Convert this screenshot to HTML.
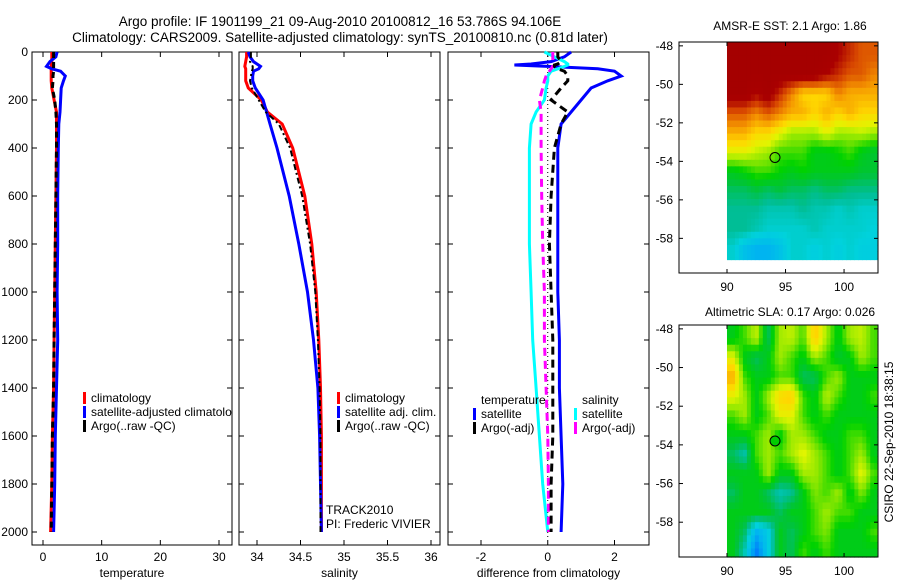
<!DOCTYPE html>
<html><head><meta charset="utf-8"><style>
body{margin:0;background:#fff;}
svg{display:block;font-family:"Liberation Sans",sans-serif;}
text{font-size:12px;fill:#000;}
</style></head><body>
<svg id="chart" width="900" height="580" xmlns="http://www.w3.org/2000/svg">
<text x="340" y="26" text-anchor="middle" style="font-size:13.5px">Argo profile: IF 1901199_21 09-Aug-2010 20100812_16 53.786S 94.106E</text>
<text x="340" y="42" text-anchor="middle" style="font-size:13.5px">Climatology: CARS2009. Satellite-adjusted climatology: synTS_20100810.nc (0.81d later)</text>
<text x="790" y="30" text-anchor="middle">AMSR-E SST: 2.1 Argo: 1.86</text>
<text x="790" y="316" text-anchor="middle">Altimetric SLA: 0.17 Argo: 0.026</text>
<text transform="translate(893,442) rotate(-90)" text-anchor="middle">CSIRO 22-Sep-2010 18:38:15</text>
<g id="layer"></g>
</svg>
<script>
// ---- profile data ----
const depths = [0,20,40,60,70,80,100,120,150,200,250,300,400,600,800,1000,1200,1400,1600,1800,2000];
const tempClim = [1.5,1.5,1.5,1.4,1.4,1.4,1.4,1.4,1.5,1.9,2.3,2.3,2.3,2.2,2.1,2.0,1.9,1.8,1.6,1.5,1.3];
const tempSat = [2.4,2.2,1.2,0.6,1.5,3.0,3.8,3.5,3.1,3.0,2.9,2.7,2.6,2.5,2.5,2.4,2.5,2.3,2.1,2.0,1.8];
const tempArgo = [1.8,1.8,1.8,1.8,1.8,1.8,1.7,1.7,1.6,2.0,2.2,2.3,2.3,2.2,2.1,2.0,1.9,1.8,1.6,1.5,1.4];
const salClim = [33.88,33.88,33.87,33.86,33.87,33.87,33.87,33.87,33.9,34.05,34.12,34.29,34.41,34.55,34.63,34.68,34.71,34.73,34.74,34.74,34.74];
const salSat = [33.9,33.92,33.96,34.04,34.02,33.96,33.95,33.95,33.98,34.07,34.11,34.15,34.23,34.37,34.48,34.58,34.65,34.7,34.72,34.73,34.74];
const salArgo = [33.93,33.93,33.92,33.95,33.95,33.94,33.93,33.92,33.94,34.02,34.1,34.25,34.38,34.52,34.61,34.67,34.7,34.72,34.73,34.73,34.73];
const diffDepths = [0,20,40,50,54,60,70,80,100,120,150,200,250,300,400,600,800,1000,1200,1400,1600,1800,2000];
const dTempSat = [0.7,0.5,0.1,-0.5,-1.0,0.0,1.5,2.0,2.2,1.8,1.3,1.0,0.7,0.4,0.3,0.3,0.3,0.3,0.35,0.35,0.4,0.45,0.4];
const dSalSat = [-0.1,0.2,0.5,0.6,0.6,0.5,0.3,0.1,0.0,0.0,-0.05,-0.1,-0.35,-0.5,-0.55,-0.55,-0.55,-0.5,-0.45,-0.35,-0.25,-0.15,0.0];
const dSalArgo = [0.15,0.15,0.15,0.15,0.15,0.15,0.1,0.05,-0.05,-0.1,-0.15,-0.25,-0.2,-0.2,-0.2,-0.18,-0.15,-0.1,-0.1,-0.05,0,0.02,0.02];
const dTempArgo = [0.3,0.3,0.4,0.3,0.2,0.2,0.3,0.5,0.6,0.6,0.4,0.1,0.6,0.4,0.2,0.1,0.05,0.1,0.15,0.15,0.15,0.1,0.1];
const depthTicks = [0,200,400,600,800,1000,1200,1400,1600,1800,2000];
const tempTicks = [0,10,20,30];
const salTicks = [34,34.5,35,35.5,36];
const diffTicks = [-2,0,2];
// ---- map data (colormap index 0..1), rows lat -48..-58, cols lon 90..102 ----
const mapLons = [90,91,92,93,94,95,96,97,98,99,100,101,102];
const mapLats = [-48,-49,-50,-51,-52,-53,-54,-55,-56,-57,-58];
const sstGrid = [
[1,1,1,1,1,1,1,1,1,.95,.9,.85,.85],
[1,1,1,1,1,1,1,1,.95,.9,.85,.85,.8],
[1,1,.95,1,.9,.8,.7,.7,.7,.8,.75,.75,.75],
[.85,.85,.8,.85,.8,.75,.75,.7,.75,.7,.75,.7,.7],
[.75,.75,.7,.7,.65,.6,.6,.6,.65,.6,.6,.62,.6],
[.65,.65,.62,.6,.55,.55,.55,.5,.5,.52,.55,.5,.48],
[.5,.52,.55,.55,.52,.5,.52,.5,.5,.5,.5,.48,.48],
[.45,.45,.47,.45,.47,.45,.45,.43,.45,.45,.43,.43,.43],
[.42,.42,.42,.4,.4,.4,.42,.4,.4,.38,.4,.38,.38],
[.42,.42,.4,.38,.38,.38,.38,.4,.38,.38,.38,.38,.37],
[.38,.33,.3,.3,.33,.38,.38,.36,.38,.36,.38,.36,.36]];
const slaLats = [-48,-49,-50,-51,-52,-53,-54,-55,-56,-57,-58,-59];
const slaGrid = [
[.5,.55,.62,.45,.6,.62,.55,.72,.6,.5,.6,.62,.55],
[.65,.5,.45,.5,.6,.55,.5,.6,.55,.48,.5,.6,.55],
[.75,.55,.5,.5,.55,.55,.45,.45,.55,.6,.5,.5,.5],
[.65,.6,.5,.6,.7,.72,.55,.5,.62,.55,.5,.5,.55],
[.55,.6,.5,.55,.65,.65,.55,.5,.55,.5,.5,.5,.5],
[.5,.5,.55,.6,.5,.6,.6,.55,.5,.5,.55,.55,.5],
[.45,.4,.55,.6,.55,.6,.65,.6,.55,.5,.55,.6,.5],
[.5,.5,.5,.6,.5,.5,.6,.6,.55,.5,.55,.65,.55],
[.45,.5,.5,.45,.4,.42,.5,.58,.55,.6,.5,.58,.5],
[.5,.5,.5,.5,.45,.5,.5,.55,.6,.55,.55,.5,.5],
[.5,.45,.3,.35,.5,.45,.5,.55,.58,.5,.5,.5,.55],
[.5,.4,.22,.35,.5,.45,.55,.5,.55,.5,.5,.5,.5]];
const lonTicks = [90,95,100];
const latTicks = [-48,-50,-52,-54,-56,-58];
const floatLon = [94.1];
const floatLat = [-53.8];

const NS="http://www.w3.org/2000/svg";
const layer=document.getElementById('layer');
function mk(tag,attrs,parent){const e=document.createElementNS(NS,tag);for(const k in attrs)e.setAttribute(k,attrs[k]);(parent||layer).appendChild(e);return e;}
function lin(d0,d1,r0,r1){return v=>r0+(v-d0)*(r1-r0)/(d1-d0);}
const yD=lin(0,2000,52,532);
const TOP=52,BOT=545;

function panel(name,x0,x1,xs,ticks,fmt,label,showY){
  const g=mk('g',{});
  
  
  mk('rect',{x:x0,y:TOP,width:x1-x0,height:BOT-TOP,fill:'#fff',stroke:'#000','stroke-width':1},g);
  ticks.forEach(t=>{const x=xs(t);
    mk('line',{x1:x,x2:x,y1:BOT,y2:BOT-5,stroke:'#000'},g);
    mk('line',{x1:x,x2:x,y1:TOP,y2:TOP+5,stroke:'#000'},g);
    const tx=mk('text',{x:x,y:BOT+16,'text-anchor':'middle'},g);tx.textContent=fmt(t);
    
    });
  depthTicks.forEach(d=>{const y=yD(d);
    mk('line',{x1:x0,x2:x0+5,y1:y,y2:y,stroke:'#000'},g);
    mk('line',{x1:x1,x2:x1-5,y1:y,y2:y,stroke:'#000'},g);
    if(showY){const tx=mk('text',{x:x0-4,y:y+4,'text-anchor':'end'},g);tx.textContent=d;
      
      }});
  const lb=mk('text',{x:(x0+x1)/2,y:BOT+32,'text-anchor':'middle'},g);lb.textContent=label;
  
  
  return g;
}
function series(g,name,xs,vals,dep,color,dash,w){
  const pts=vals.map((v,i)=>xs(v).toFixed(1)+','+yD(dep[i]).toFixed(1)).join(' ');
  const p=mk('polyline',{points:pts,fill:'none',stroke:color,'stroke-width':w||3,'stroke-dasharray':dash||'none'},g);
  
  
}
function legend(g,name,x,y,color,label){
  mk('rect',{x:x,y:y-10,width:3,height:12,fill:color},g);
  const t=mk('text',{x:x+8,y:y},g);t.textContent=label;
  
  
}
// temperature panel
const xT=lin(0,30,43,219);
let g=panel('temperature',32,232,xT,tempTicks,t=>t,'temperature',true);
series(g,'temp-climatology-line',xT,tempClim,depths,'#f00');
series(g,'temp-satellite-line',xT,tempSat,depths,'#00f');
series(g,'temp-argo-line',xT,tempArgo,depths,'#000','6,4');
legend(g,'legend-climatology',83,402,'#f00','climatology');
legend(g,'legend-satellite-adjusted',83,416,'#00f','satellite-adjusted climatolo');
legend(g,'legend-argo',83,430,'#000','Argo(..raw -QC)');
// salinity panel
const xS=lin(34,36,257,431);
g=panel('salinity',239,440,xS,salTicks,t=>t,'salinity',false);
series(g,'sal-climatology-line',xS,salClim,depths,'#f00');
series(g,'sal-satellite-line',xS,salSat,depths,'#00f');
series(g,'sal-argo-line',xS,salArgo,depths,'#000','6,3,2,3',2);
legend(g,'legend-climatology',337,402,'#f00','climatology');
legend(g,'legend-satellite-adj',337,416,'#00f','satellite adj. clim.');
legend(g,'legend-argo',337,430,'#000','Argo(..raw -QC)');
let t1=mk('text',{x:326,y:514},g);t1.textContent='TRACK2010';


let t2=mk('text',{x:326,y:528},g);t2.textContent='PI: Frederic VIVIER';


// difference panel
const xDf=lin(-2,2,481,614.5);
g=panel('difference',448,649,xDf,diffTicks,t=>t,'difference from climatology',false);
mk('line',{x1:xDf(0),x2:xDf(0),y1:TOP,y2:BOT-5,stroke:'#000','stroke-dasharray':'1,3'},g);
series(g,'diff-temp-satellite-line',xDf,dTempSat,diffDepths,'#00f');
series(g,'diff-sal-satellite-line',xDf,dSalSat,diffDepths,'#0ff');
series(g,'diff-sal-argo-line',xDf,dSalArgo,diffDepths,'#f0f','8,5');
series(g,'diff-temp-argo-line',xDf,dTempArgo,diffDepths,'#000','8,5');
let th=mk('text',{x:481,y:404},g);th.textContent='temperature';


let sh=mk('text',{x:582,y:404},g);sh.textContent='salinity';


legend(g,'legend-temp-satellite',473,418,'#00f','satellite');
legend(g,'legend-temp-argo',473,432,'#000','Argo(-adj)');
legend(g,'legend-sal-satellite',574,418,'#0ff','satellite');
legend(g,'legend-sal-argo',574,432,'#f0f','Argo(-adj)');

// maps
const cmStops=[[0,[0,0,200]],[0.2,[0,110,255]],[0.3,[0,180,240]],[0.37,[0,210,220]],[0.42,[0,190,150]],[0.47,[0,195,60]],[0.52,[0,210,0]],[0.58,[130,230,0]],[0.64,[225,245,0]],[0.7,[255,215,0]],[0.78,[245,150,0]],[0.87,[215,70,0]],[0.95,[170,0,0]],[1,[165,0,0]]];
function cmap(v){v=Math.max(0,Math.min(1,v));
  for(let i=1;i<cmStops.length;i++){if(v<=cmStops[i][0]){const a=cmStops[i-1],b=cmStops[i],f=(v-a[0])/(b[0]-a[0]);
    return 'rgb('+a[1].map((c,k)=>Math.round(c+(b[1][k]-c)*f)).join(',')+')';}}
  return 'rgb(165,0,0)';}
function sample(grid,lats,lon,lat){
  // bilinear on cell centres
  let fc=(lon-(mapLons[0]+0.5)), fr=((lats[0]-0.5)-lat);
  fc=Math.max(0,Math.min(mapLons.length-1,fc)); fr=Math.max(0,Math.min(lats.length-1,fr));
  const c0=Math.floor(fc),r0=Math.floor(fr),c1=Math.min(c0+1,mapLons.length-1),r1=Math.min(r0+1,lats.length-1);
  const dc=fc-c0,dr=fr-r0;
  return grid[r0][c0]*(1-dc)*(1-dr)+grid[r0][c1]*dc*(1-dr)+grid[r1][c0]*(1-dc)*dr+grid[r1][c1]*dc*dr;
}
function map(name,top,bot,lats,grid,bottomLat,filled){
  const xL=lin(85.9,102.9,679,878), yL=lin(-47.8,-59.8,top,bot);
  const g=mk('g',{});
  
  
  mk('rect',{x:679,y:top,width:199,height:bot-top,fill:'#fff',stroke:'#000'},g);
  const step=0.34;
  for(let la=-47.8;la>bottomLat+0.001;la-=step){
    const la1=Math.max(la-step,bottomLat);
    for(let lo=90;lo<102.8-0.001;lo+=step){
      const lo1=Math.min(lo+step,102.8);
      const v=sample(grid,lats,(lo+lo1)/2,(la+la1)/2);
      const cell=mk('rect',{x:xL(lo).toFixed(2),y:yL(la).toFixed(2),width:(xL(lo1)-xL(lo)+0.6).toFixed(2),height:(yL(la1)-yL(la)+0.6).toFixed(2),fill:cmap(v)},g);
      
      
    }
  }
  mk('rect',{x:679,y:top,width:199,height:bot-top,fill:'none',stroke:'#000'},g);
  lonTicks.forEach(l=>{const x=xL(l);
    mk('line',{x1:x,x2:x,y1:bot,y2:bot-4,stroke:'#000'},g);
    mk('line',{x1:x,x2:x,y1:top,y2:top+4,stroke:'#000'},g);
    const t=mk('text',{x:x,y:bot+18,'text-anchor':'middle'},g);t.textContent=l;
    
    });
  latTicks.forEach(l=>{const y=yL(l);
    mk('line',{x1:679,x2:683,y1:y,y2:y,stroke:'#000'},g);
    mk('line',{x1:878,x2:874,y1:y,y2:y,stroke:'#000'},g);
    const t=mk('text',{x:673,y:y+4,'text-anchor':'end'},g);t.textContent=l;
    
    });
  const m=mk('circle',{cx:xL(floatLon[0]),cy:yL(floatLat[0]),r:5,fill:filled?'#0c0':'none',stroke:'#000'},g);
  
  
}
map('sst-map',42,273,mapLats,sstGrid,-59.1,false);
map('sla-map',325,557,slaLats,slaGrid,-59.8,true);
</script>
</body></html>
